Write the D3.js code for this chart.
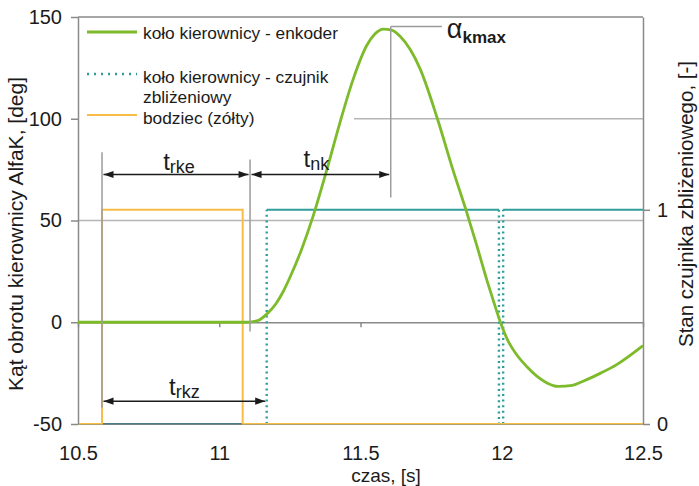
<!DOCTYPE html>
<html><head><meta charset="utf-8">
<script src="https://cdn.jsdelivr.net/npm/d3@7"></script>
<style>
body{margin:0;background:#fff}
svg{display:block;font-family:"Liberation Sans",Arial,sans-serif}
</style>
</head><body>
<svg id="c" width="699" height="486"></svg>
<script>
// ---- data ----
const encTime  = [10.5, 11.0, 11.10, 11.12, 11.14, 11.168, 11.2, 11.226, 11.25, 11.292, 11.332, 11.381, 11.427, 11.473, 11.522, 11.55, 11.581, 11.61, 11.64, 11.711, 11.77, 11.827, 11.876, 11.911, 11.95, 11.975, 11.994, 12.02, 12.053, 12.09, 12.124, 12.16, 12.2, 12.25, 12.288, 12.35, 12.407, 12.5];
const encAngle = [0, 0, 0, 0.3, 1, 4, 9, 15, 22, 36, 52, 75, 98, 119, 136, 141.5, 144, 143.5, 140.5, 124.5, 101, 75, 54, 38, 19.5, 8.5, 0.5, -8.5, -16, -22, -26.5, -29.8, -31.5, -31, -29, -25, -20.8, -11.5];
const sensorTime  = [10.5, 11.168, 11.168, 11.99, 11.99, 12.005, 12.005, 12.5];
const sensorState = [0, 0, 1, 1, 0, 0, 1, 1];
const stimTime  = [10.5, 10.585, 10.585, 11.083, 11.083, 12.5];
const stimState = [0, 0, 1, 1, 0, 0];
const xTicks  = [10.5, 11, 11.5, 12, 12.5];
const yTicks  = [-50, 0, 50, 100, 150];
const y2Ticks = [0, 1];
const gridValues = [50, 100];
const legendNames = [["koło kierownicy - enkoder"], ["koło kierownicy - czujnik", "zbliżeniowy"], ["bodziec (zółty)"]];
// annotation times [s]: stimulus on, encoder start, sensor on, alpha max marker, alpha label line end
const markTimes = [10.585, 11.109, 11.168, 11.607, 11.788];
// annotation levels [deg]: arrow row, rkz arrow row, alpha max level
const markLevels = [72.6, -38.8, 145.3];

// ---- scales ----
const svg = d3.select("#c");
const x  = d3.scaleLinear().domain([10.5, 12.5]).range([78, 643]);
const y  = d3.scaleLinear().domain([-50, 150]).range([424, 17]);
const y2 = d3.scaleLinear().domain([0, 1.9]).range([424, 17]);
const plain = d => String(d);

const C = {green:"#7dbb2b", teal:"#2f9e9b", orange:"#f8bd47", grid:"#b5b5b5", axis:"#8a8a8a", ann:"#9c9c9c", text:"#1b1b1b"};

// gridlines
svg.append("g").selectAll("line").data(gridValues).join("line")
  .attr("x1", x(10.5)).attr("x2", x(12.5))
  .attr("y1", d => y(d)).attr("y2", d => y(d))
  .attr("stroke", C.grid).attr("stroke-width", 1.5);

// legend background
svg.append("rect").attr("x", 79).attr("y", 18).attr("width", 275).attr("height", 110).attr("fill", "#fff");

// frame top
svg.append("line").attr("x1", x(10.5)).attr("x2", x(12.5)).attr("y1", y(150)).attr("y2", y(150))
  .attr("stroke", C.axis).attr("stroke-width", 1.5);

// zero line with ticks
const zeroAx = svg.append("g").attr("transform", `translate(0,${y(0)})`)
  .call(d3.axisBottom(x).tickValues(xTicks).tickSize(5).tickSizeOuter(0).tickFormat(""));
zeroAx.select(".domain").attr("stroke", C.axis).attr("stroke-width", 1.5);
zeroAx.selectAll(".tick line").attr("stroke", C.axis).attr("stroke-width", 1.5);

// sensor series (teal): horizontal solid, vertical dotted
const segs = [];
for (let i = 0; i < sensorTime.length - 1; i++) {
  segs.push({t0: sensorTime[i], s0: sensorState[i], t1: sensorTime[i+1], s1: sensorState[i+1]});
}
svg.append("g").selectAll("line").data(segs).join("line")
  .attr("x1", d => x(d.t0)).attr("x2", d => x(d.t1))
  .attr("y1", d => y2(d.s0)).attr("y2", d => y2(d.s1))
  .attr("stroke", d => (d.s0 === 0 && d.s1 === 0) ? "#4f7c82" : C.teal)
  .attr("stroke-width", d => d.t0 === d.t1 ? 2.4 : 2)
  .attr("stroke-dasharray", d => d.t0 === d.t1 ? "2,3.6" : null);

// stimulus (orange)
const stimPts = stimTime.map((t, i) => [t, stimState[i]]);
svg.append("path").datum(stimPts)
  .attr("d", d3.line().x(d => x(d[0])).y(d => y2(d[1])))
  .attr("fill", "none").attr("stroke", C.orange).attr("stroke-width", 2);

// bottom axis with labels
const bAx = svg.append("g").attr("transform", `translate(0,${y(-50)})`)
  .call(d3.axisBottom(x).tickValues(xTicks).tickSize(0).tickSizeOuter(0).tickPadding(22).tickFormat(plain));
bAx.select(".domain").attr("stroke", C.axis).attr("stroke-width", 1.2).attr("stroke-opacity", 0.6);
bAx.selectAll("text").attr("font-size", 20).attr("fill", C.text).attr("font-family", "Liberation Sans, Arial, sans-serif");

// left axis
const lAx = svg.append("g").attr("transform", `translate(${x(10.5)},0)`)
  .call(d3.axisLeft(y).tickValues(yTicks).tickSize(7).tickSizeOuter(0).tickPadding(9).tickFormat(plain));
lAx.select(".domain").attr("stroke", C.axis).attr("stroke-width", 1.5);
lAx.selectAll(".tick line").attr("stroke", C.axis).attr("stroke-width", 1.5);
lAx.selectAll("text").attr("font-size", 20).attr("fill", C.text).attr("font-family", "Liberation Sans, Arial, sans-serif");

// right axis
const rAx = svg.append("g").attr("transform", `translate(${x(12.5)},0)`)
  .call(d3.axisRight(y2).tickValues(y2Ticks).tickSize(7).tickSizeOuter(0).tickPadding(7).tickFormat(plain));
rAx.select(".domain").attr("stroke", C.axis).attr("stroke-width", 1.5);
rAx.selectAll(".tick line").attr("stroke", C.axis).attr("stroke-width", 1.5);
rAx.selectAll("text").attr("font-size", 20).attr("fill", C.text).attr("font-family", "Liberation Sans, Arial, sans-serif");

// encoder (green)
const encPts = encTime.map((t, i) => [t, encAngle[i]]);
svg.append("path").datum(encPts)
  .attr("d", d3.line().curve(d3.curveMonotoneX).x(d => x(d[0])).y(d => y(d[1])))
  .attr("fill", "none").attr("stroke", C.green).attr("stroke-width", 2.8);

// legend
const legY = [32, 74, 115];
const legStyles = [
  {c: C.green, w: 3, dash: null},
  {c: C.teal, w: 2.4, dash: "2,5"},
  {c: C.orange, w: 2, dash: null}
];
const legTextY = [[39], [83, 103], [124]];
legendNames.forEach((lines, i) => {
  svg.append("line").attr("x1", 87).attr("x2", 137).attr("y1", legY[i]).attr("y2", legY[i])
    .attr("stroke", legStyles[i].c).attr("stroke-width", legStyles[i].w)
    .attr("stroke-dasharray", legStyles[i].dash);
  lines.forEach((s, j) => {
    svg.append("text").attr("x", 143).attr("y", legTextY[i][j]).attr("font-size", 17.3)
      .attr("fill", C.text).text(s);
  });
});

// annotations
const [tOn, tEnc, tSens, tPk, tPkEnd] = markTimes;
const [lvArrow, lvRkz, lvMax] = markLevels;
const ann = svg.append("g").attr("stroke", C.ann).attr("stroke-width", 1.5);
ann.append("line").attr("x1", x(tOn)).attr("x2", x(tOn)).attr("y1", y(83.5)).attr("y2", y(-42));
ann.append("line").attr("x1", x(tEnc)).attr("x2", x(tEnc)).attr("y1", y(80)).attr("y2", y(-4.5));
ann.append("line").attr("x1", x(tPk)).attr("x2", x(tPk)).attr("y1", y(lvMax)).attr("y2", y(61.3));
ann.append("line").attr("x1", x(tPk)).attr("x2", x(tPkEnd)).attr("y1", y(lvMax)).attr("y2", y(lvMax));

function dblArrow(xa, xb, yy) {
  const g = svg.append("g");
  const a = xa + 1.5, b = xb - 1.5;
  g.append("line").attr("x1", a).attr("x2", b).attr("y1", yy).attr("y2", yy)
    .attr("stroke", C.text).attr("stroke-width", 1.4);
  g.append("path").attr("d", `M${a},${yy}L${a+10},${yy-3.6}L${a+10},${yy+3.6}Z`).attr("fill", C.text);
  g.append("path").attr("d", `M${b},${yy}L${b-10},${yy-3.6}L${b-10},${yy+3.6}Z`).attr("fill", C.text);
}
dblArrow(x(tOn), x(tEnc), y(lvArrow));
dblArrow(x(tEnc), x(tPk), y(lvArrow));
dblArrow(x(tOn), x(tSens), y(lvRkz));

function tLabel(cx, base, main, sub, mainSize, subSize, dy) {
  const t = svg.append("text").attr("x", cx).attr("y", base).attr("text-anchor", "middle").attr("fill", C.text);
  t.append("tspan").attr("font-size", mainSize).text(main);
  t.append("tspan").attr("font-size", subSize).attr("dy", dy).text(sub);
  return t;
}
tLabel((x(tOn) + x(tEnc)) / 2 + 3, 170, "t", "rke", 24, 18, 3);
tLabel((x(tEnc) + x(tPk)) / 2 - 4, 167, "t", "nk", 24, 18, 3);
tLabel((x(tOn) + x(tSens)) / 2, 395, "t", "rkz", 24, 18, 3);
const al = svg.append("text").attr("x", x(tPkEnd) + 5).attr("y", 38).attr("fill", C.text);
al.append("tspan").attr("font-size", 27).text("α");
al.append("tspan").attr("font-size", 17).attr("font-weight", "bold").attr("dy", 5).text("kmax");

// axis titles
svg.append("text").attr("transform", "translate(23,391) rotate(-90)").attr("font-size", 21)
  .attr("fill", C.text).text("Kąt obrotu kierownicy AlfaK, [deg]");
svg.append("text").attr("transform", "translate(693,347) rotate(-90)").attr("font-size", 20.5)
  .attr("fill", C.text).text("Stan czujnika zbliżeniowego, [-]");
svg.append("text").attr("x", 386).attr("y", 482).attr("text-anchor", "middle").attr("font-size", 19)
  .attr("fill", C.text).text("czas, [s]");
</script>
</body></html>
